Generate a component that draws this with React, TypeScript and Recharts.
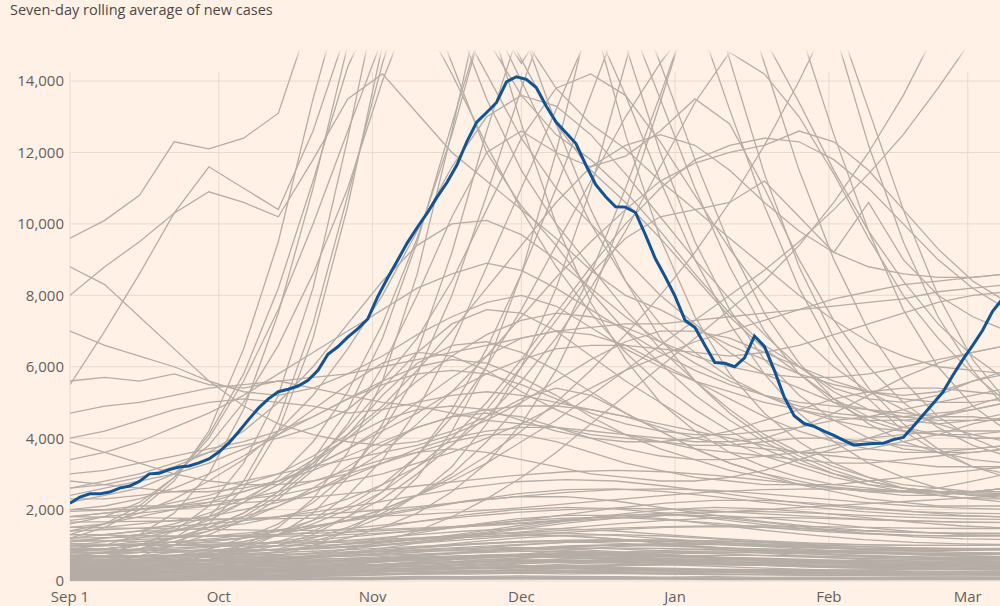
import React from "react";
import { LineChart, Line, XAxis, YAxis, CartesianGrid, ReferenceLine } from "recharts";

// x is days since Sep 1; y is thousands of cases (seven-day rolling average)
const monthTicks = [0, 30, 61, 91, 122, 153, 181];
const monthLabels = ["Sep 1", "Oct", "Nov", "Dec", "Jan", "Feb", "Mar"];
const yTicks = [0, 2, 4, 6, 8, 10, 12, 14];

// highlighted series, one value every 2 days
const BLUE_STEP = 2;
const highlight = [
  2.18, 2.35, 2.44, 2.44, 2.49, 2.6, 2.66, 2.79, 3.0, 3.02, 3.12, 3.19, 3.22, 3.31, 3.42, 3.61, 3.86, 4.18, 4.52, 4.84,
  5.1, 5.3, 5.37, 5.46, 5.62, 5.9, 6.35, 6.56, 6.83, 7.06, 7.33, 7.95, 8.48, 8.97, 9.47, 9.9, 10.3, 10.75, 11.16, 11.65,
  12.3, 12.85, 13.12, 13.4, 13.98, 14.12, 14.05, 13.82, 13.3, 12.85, 12.55, 12.25, 11.65, 11.1, 10.76, 10.48, 10.47, 10.32, 9.7, 9.03,
  8.52, 7.97, 7.3, 7.1, 6.6, 6.12, 6.1, 6.0, 6.25, 6.86, 6.57, 5.9, 5.15, 4.63, 4.41, 4.33, 4.2, 4.08, 3.94, 3.81,
  3.83, 3.85, 3.86, 3.96, 4.02, 4.33, 4.65, 4.97, 5.29, 5.76, 6.2, 6.6, 7.02, 7.55, 7.9,
];

// other places, weekly values
const WEEK = 7;
const greyHigh = [
  [9.6, 10.1, 10.8, 12.3, 12.1, 12.4, 13.1, 16, 19, 20, 19, 17, 15.2, 13.6, 12.5, 11.8, 10.9, 9.8, 8.6, 7.5, 6.6, 6.0, 5.4, 5.1, 5.0, 5.2, 5.6, 5.9],
  [8.0, 8.8, 9.5, 10.3, 10.9, 10.6, 10.2, 11.8, 13.5, 14.2, 13.1, 12.0, 11.2, 10.4, 9.6, 8.7, 8.0, 7.6, 7.1, 6.6, 6.2, 5.8, 5.5, 5.3, 5.2, 5.3, 5.6, 5.8],
  [5.5, 7.0, 8.6, 10.3, 11.6, 11.0, 10.4, 12.6, 15.5, 18, 17, 14.5, 12.0, 10.5, 9.4, 8.1, 7.0, 6.1, 5.2, 4.5, 3.9, 3.4, 3.0, 2.7, 2.5, 2.4, 2.3, 2.3],
  [8.8, 8.3, 7.4, 6.5, 5.6, 4.9, 4.4, 4.1, 3.9, 3.8, 3.9, 4.2, 4.6, 5.1, 5.4, 5.2, 4.7, 4.2, 3.7, 3.3, 3.0, 2.8, 2.6, 2.5, 2.4, 2.4, 2.5, 2.6],
  [1.2, 1.5, 2.0, 2.8, 4.2, 6.5, 9.5, 13.5, 17, 19, 18, 16, 13.5, 11.5, 10.0, 8.8, 7.6, 6.5, 5.6, 4.8, 4.1, 3.6, 3.2, 2.9, 2.7, 2.6, 2.5, 2.5],
  [0.9, 1.0, 1.3, 1.9, 3.0, 4.8, 7.5, 11.0, 15.0, 18, 19, 18, 16.5, 14.6, 12.8, 11.5, 10.6, 9.6, 8.5, 7.4, 6.5, 5.8, 5.1, 4.6, 4.3, 4.1, 4.0, 4.0],
  [0.6, 0.7, 0.9, 1.2, 1.8, 2.8, 4.5, 7.2, 10.8, 14.5, 17.5, 18, 17, 15.3, 13.8, 12.8, 12.1, 11.2, 10.4, 9.6, 8.8, 8.0, 7.3, 6.7, 6.3, 6.0, 5.9, 5.8],
  [1.6, 1.8, 2.2, 2.9, 4.0, 5.6, 7.6, 10.0, 12.6, 15.2, 17, 16, 14.2, 12.4, 11.0, 10.0, 9.0, 8.0, 7.2, 6.4, 5.8, 5.4, 5.0, 4.8, 4.6, 4.5, 4.5, 4.5],
  [2.2, 2.4, 2.6, 3.0, 3.8, 5.0, 6.6, 8.6, 11.0, 14.0, 16.5, 17, 16, 14, 12, 10, 8.4, 7.2, 6.4, 5.7, 5.2, 4.8, 4.5, 4.3, 4.2, 4.1, 4.1, 4.2],
  [1.4, 1.6, 1.9, 2.3, 2.8, 3.4, 4.2, 5.2, 6.5, 8.0, 9.8, 11.6, 13.0, 13.6, 13.3, 12.5, 11.4, 10.2, 9.0, 7.9, 6.9, 6.0, 5.3, 4.8, 4.5, 4.4, 4.5, 4.7],
  [0.8, 0.9, 1.0, 1.2, 1.5, 1.9, 2.5, 3.4, 4.8, 6.8, 9.5, 12.8, 16, 19, 20, 18, 15, 12, 9.5, 7.6, 6.2, 5.2, 4.5, 4.0, 3.7, 3.6, 3.6, 3.7],
  [1.0, 1.1, 1.2, 1.4, 1.7, 2.2, 2.9, 3.9, 5.3, 7.2, 9.6, 12.5, 16, 14.5, 16, 17, 16, 13.5, 11.0, 8.8, 7.0, 5.8, 5.0, 4.5, 4.2, 4.1, 4.0, 4.0],
  [0.4, 0.5, 0.6, 0.7, 0.9, 1.2, 1.6, 2.2, 3.0, 4.2, 5.8, 8.0, 10.8, 13.8, 16.5, 18, 17, 14.5, 11.8, 9.4, 7.5, 6.1, 5.1, 4.4, 3.9, 3.6, 3.4, 3.3],
  [0.7, 0.8, 0.9, 1.1, 1.4, 1.8, 2.4, 3.2, 4.4, 6.0, 8.0, 10.2, 12.0, 12.6, 12.0, 11.6, 11.9, 12.6, 13.5, 12.8, 11.0, 9.0, 7.3, 6.0, 5.0, 4.3, 3.8, 3.5],
  [0.5, 0.5, 0.6, 0.7, 0.8, 1.0, 1.3, 1.7, 2.4, 3.4, 4.8, 6.6, 8.8, 11.0, 13.2, 15.5, 17.5, 18, 16, 13.2, 10.5, 8.2, 6.4, 5.1, 4.2, 3.6, 3.2, 3.0],
  [0.3, 0.3, 0.4, 0.5, 0.6, 0.8, 1.0, 1.3, 1.8, 2.5, 3.5, 4.8, 6.5, 8.6, 11.0, 13.6, 16.2, 18, 19, 17.5, 14.5, 11.5, 9.0, 7.0, 5.6, 4.6, 4.0, 3.6],
  [0.9, 0.9, 1.0, 1.0, 1.1, 1.2, 1.4, 1.7, 2.1, 2.7, 3.5, 4.6, 6.0, 7.6, 9.4, 11.2, 13.0, 14.5, 15.8, 16.5, 15.2, 13.4, 11.5, 9.8, 8.4, 7.2, 6.3, 5.6],
  [0.6, 0.6, 0.7, 0.8, 0.9, 1.1, 1.3, 1.6, 2.0, 2.5, 3.2, 4.0, 5.0, 6.2, 7.5, 8.8, 10.0, 11.0, 11.8, 12.2, 12.4, 12.3, 11.8, 11.0, 10.0, 9.0, 8.2, 7.6],
  [1.1, 1.2, 1.3, 1.4, 1.6, 1.8, 2.1, 2.5, 3.0, 3.6, 4.4, 5.3, 6.3, 7.4, 8.5, 9.5, 10.4, 11.2, 11.7, 12.0, 12.2, 12.6, 12.3, 11.5, 10.4, 9.3, 8.4, 7.8],
  [0.4, 0.4, 0.5, 0.6, 0.7, 0.9, 1.1, 1.4, 1.8, 2.3, 3.0, 3.8, 4.8, 6.0, 7.3, 8.6, 9.6, 10.2, 10.4, 10.6, 11.2, 10.2, 9.2, 10.6, 9.0, 8.0, 7.4, 7.0],
  [0.3, 0.3, 0.3, 0.4, 0.4, 0.5, 0.6, 0.7, 0.9, 1.1, 1.4, 1.8, 2.3, 2.9, 3.6, 4.4, 5.2, 6.0, 6.8, 7.6, 8.4, 9.4, 10.6, 12.0, 13.6, 15.5, 17.5, 19],
  [0.8, 0.8, 0.9, 1.0, 1.0, 1.1, 1.3, 1.5, 1.7, 2.0, 2.4, 2.8, 3.3, 3.9, 4.5, 5.2, 5.9, 6.6, 7.3, 8.0, 8.7, 9.5, 10.4, 11.4, 12.5, 13.8, 15.2, 16.5],
  [0.5, 0.5, 0.6, 0.6, 0.7, 0.8, 0.9, 1.1, 1.4, 1.8, 2.4, 3.2, 4.4, 6.0, 8.2, 11.0, 14.5, 18, 20, 20, 18, 15.5, 12.5, 9.8, 7.6, 6.0, 4.9, 4.2],
  [0.6, 0.6, 0.6, 0.7, 0.8, 0.9, 1.0, 1.2, 1.5, 1.9, 2.4, 3.0, 3.9, 5.0, 6.6, 8.6, 11.0, 13.6, 16.4, 18.5, 19, 18, 16, 13.2, 10.4, 8.0, 6.2, 5.0],
  [1.3, 1.3, 1.4, 1.4, 1.5, 1.6, 1.8, 2.0, 2.3, 2.7, 3.2, 3.8, 4.6, 5.6, 6.8, 8.2, 9.8, 11.6, 13.4, 14.8, 14.2, 13.0, 11.4, 9.6, 8.0, 6.8, 5.8, 5.0],
  [0.4, 0.5, 0.7, 1.0, 1.6, 2.6, 4.2, 6.8, 10.5, 15, 19, 20, 18, 15.5, 12.8, 10.4, 8.4, 6.8, 5.6, 4.7, 4.0, 3.5, 3.1, 2.8, 2.6, 2.5, 2.4, 2.4],
  [0.7, 0.8, 1.0, 1.4, 2.1, 3.3, 5.2, 8.2, 12.4, 17, 20, 19, 16, 12.8, 10.0, 7.8, 6.2, 5.0, 4.2, 3.6, 3.2, 2.9, 2.7, 2.6, 2.5, 2.5, 2.5, 2.6],
  [0.3, 0.3, 0.4, 0.5, 0.7, 1.0, 1.5, 2.3, 3.6, 5.6, 8.6, 12.6, 17, 20, 19, 16, 12.5, 9.6, 7.4, 5.8, 4.7, 3.9, 3.3, 2.9, 2.6, 2.4, 2.3, 2.2],
  [0.2, 0.2, 0.3, 0.3, 0.4, 0.5, 0.7, 1.0, 1.4, 2.0, 2.9, 4.2, 6.0, 8.6, 12.0, 16, 19, 20, 18, 14.6, 11.4, 8.8, 6.8, 5.4, 4.4, 3.7, 3.2, 2.9],
  [0.5, 0.5, 0.5, 0.6, 0.6, 0.7, 0.8, 1.0, 1.2, 1.5, 1.9, 2.5, 3.3, 4.4, 5.9, 7.9, 10.4, 13.4, 16.5, 19, 20, 18.5, 15.5, 12.2, 9.5, 7.4, 5.9, 4.8],
  [0.9, 0.9, 1.0, 1.0, 1.1, 1.2, 1.3, 1.5, 1.7, 2.0, 2.4, 2.9, 3.5, 4.2, 5.0, 5.9, 6.9, 8.0, 9.2, 10.6, 12.2, 14.0, 16.0, 18, 19.5, 20, 19, 17.5],
  [1.3, 1.6, 2.1, 2.9, 4.1, 5.8, 8.2, 11.2, 14.4, 16.5, 16, 14.2, 12.2, 10.4, 8.8, 7.5, 6.4, 5.5, 4.8, 4.2, 3.7, 3.3, 3.0, 2.8, 2.6, 2.5, 2.4, 2.4],
  [0.2, 0.3, 0.3, 0.4, 0.6, 0.9, 1.3, 1.9, 2.9, 4.4, 6.4, 9.2, 12.6, 15.6, 16.8, 15.8, 13.6, 11.2, 9.0, 7.2, 5.8, 4.7, 3.9, 3.3, 2.9, 2.6, 2.4, 2.3],
];

const greyMid = [
  [7.0, 6.6, 6.3, 6.0, 5.6, 5.3, 5.2, 5.4, 5.8, 6.3, 6.9, 7.4, 7.8, 8.0, 7.7, 7.1, 6.5, 6.0, 5.6, 5.3, 5.0, 4.8, 4.6, 4.5, 4.5, 4.6, 4.8, 5.0],
  [5.6, 5.7, 5.6, 5.8, 5.5, 5.4, 5.6, 5.4, 5.2, 5.0, 4.9, 4.7, 4.5, 4.4, 4.3, 4.1, 4.0, 3.9, 3.7, 3.6, 3.5, 3.4, 3.3, 3.3, 3.4, 3.5, 3.6, 3.7],
  [4.7, 4.9, 5.0, 5.2, 5.4, 5.5, 5.6, 5.7, 5.8, 6.0, 6.2, 6.4, 6.6, 6.8, 7.0, 7.1, 7.2, 7.2, 7.3, 7.4, 7.5, 7.6, 7.7, 7.8, 7.9, 8.1, 8.2, 8.3],
  [4.0, 4.2, 4.5, 4.8, 5.0, 5.1, 5.0, 4.9, 4.7, 4.8, 5.0, 5.2, 5.3, 5.2, 5.0, 4.8, 4.6, 4.3, 4.0, 3.8, 3.7, 3.6, 3.6, 3.7, 3.9, 4.1, 4.4, 4.6],
  [3.4, 3.6, 3.9, 4.3, 4.7, 5.2, 5.8, 6.4, 7.0, 7.6, 8.2, 8.6, 8.9, 8.7, 8.2, 7.6, 7.0, 6.4, 5.9, 5.5, 5.2, 5.0, 4.9, 4.8, 4.7, 4.6, 4.6, 4.5],
  [2.6, 2.8, 3.0, 3.3, 3.6, 3.8, 4.0, 4.3, 4.8, 5.6, 6.8, 8.4, 10.4, 12.4, 13.8, 14.2, 13.6, 12.3, 10.8, 9.3, 8.0, 6.9, 6.0, 5.3, 4.8, 4.4, 4.1, 3.9],
  [1.8, 1.9, 2.0, 2.2, 2.4, 2.7, 3.0, 3.5, 4.1, 4.9, 5.9, 7.0, 8.2, 9.4, 10.6, 11.6, 12.2, 12.5, 12.2, 11.5, 10.6, 9.8, 9.2, 8.8, 8.6, 8.5, 8.5, 8.6],
  [2.0, 2.0, 2.1, 2.1, 2.2, 2.3, 2.4, 2.6, 2.8, 3.0, 3.3, 3.6, 4.0, 4.4, 4.9, 5.4, 5.9, 6.3, 6.7, 7.0, 7.3, 7.6, 7.9, 8.1, 8.3, 8.4, 8.5, 8.6],
  [1.5, 1.6, 1.8, 2.0, 2.2, 2.5, 2.8, 3.2, 3.7, 4.2, 4.7, 5.3, 5.8, 6.2, 6.5, 6.6, 6.6, 6.5, 6.4, 6.3, 6.4, 6.6, 6.9, 7.2, 7.5, 7.8, 8.0, 8.1],
  [2.4, 2.6, 2.8, 3.0, 3.3, 3.7, 4.1, 4.6, 5.1, 5.5, 5.8, 5.9, 5.8, 5.5, 5.1, 4.7, 4.4, 4.2, 4.1, 4.1, 4.2, 4.3, 4.5, 4.6, 4.8, 5.0, 5.2, 5.4],
  [3.0, 3.1, 3.3, 3.5, 3.7, 3.9, 4.2, 4.6, 5.1, 5.6, 6.0, 6.2, 6.1, 5.7, 5.2, 4.6, 4.1, 3.7, 3.4, 3.1, 2.9, 2.7, 2.6, 2.5, 2.5, 2.6, 2.8, 3.0],
  [2.0, 2.1, 2.3, 2.6, 3.0, 3.5, 4.1, 4.8, 5.5, 6.1, 6.4, 6.3, 5.9, 5.3, 4.8, 4.4, 4.1, 3.9, 3.8, 3.8, 3.9, 4.0, 4.0, 3.9, 3.8, 3.7, 3.7, 3.8],
  [1.8, 1.9, 2.0, 2.1, 2.3, 2.5, 2.8, 3.2, 3.7, 4.3, 5.0, 5.7, 6.3, 6.8, 7.0, 6.9, 6.6, 6.1, 5.6, 5.1, 4.6, 4.2, 3.9, 3.7, 3.6, 3.6, 3.7, 3.8],
  [1.2, 1.3, 1.4, 1.6, 1.9, 2.3, 2.8, 3.4, 4.0, 4.5, 4.8, 4.9, 4.8, 4.5, 4.2, 4.0, 3.9, 3.9, 4.0, 4.2, 4.5, 4.8, 5.1, 5.3, 5.4, 5.4, 5.3, 5.2],
  [2.8, 2.7, 2.6, 2.5, 2.5, 2.6, 2.8, 3.1, 3.5, 3.9, 4.3, 4.6, 4.8, 4.9, 4.9, 4.8, 4.6, 4.4, 4.2, 4.0, 3.8, 3.6, 3.5, 3.4, 3.3, 3.2, 3.2, 3.2],
  [1.0, 1.0, 1.1, 1.2, 1.4, 1.7, 2.1, 2.6, 3.2, 3.8, 4.3, 4.6, 4.7, 4.6, 4.3, 4.0, 3.7, 3.5, 3.4, 3.4, 3.5, 3.6, 3.8, 4.0, 4.1, 4.2, 4.2, 4.2],
  [0.8, 0.9, 1.0, 1.2, 1.5, 1.9, 2.5, 3.3, 4.3, 5.4, 6.4, 7.2, 7.6, 7.5, 7.0, 6.3, 5.6, 5.0, 4.4, 3.9, 3.5, 3.2, 2.9, 2.7, 2.6, 2.5, 2.5, 2.6],
  [1.5, 1.5, 1.6, 1.7, 1.8, 2.0, 2.2, 2.5, 2.9, 3.3, 3.7, 4.0, 4.2, 4.3, 4.3, 4.2, 4.1, 4.0, 3.9, 3.9, 4.0, 4.3, 4.7, 5.2, 5.7, 6.1, 6.4, 6.6],
  [3.9, 3.6, 3.3, 3.0, 2.8, 2.7, 2.7, 2.8, 3.0, 3.3, 3.6, 3.9, 4.1, 4.1, 3.9, 3.6, 3.3, 3.1, 2.9, 2.8, 2.7, 2.7, 2.7, 2.8, 2.9, 3.0, 3.1, 3.2],
  [2.6, 2.7, 2.9, 3.2, 3.6, 4.2, 5.0, 6.0, 7.2, 8.4, 9.4, 10.0, 10.1, 9.7, 9.0, 8.2, 7.4, 6.7, 6.1, 5.6, 5.2, 4.9, 4.7, 4.6, 4.6, 4.7, 4.8, 5.0],
  [1.7, 1.8, 1.9, 2.0, 2.1, 2.3, 2.5, 2.8, 3.1, 3.4, 3.6, 3.7, 3.6, 3.4, 3.2, 3.0, 2.9, 2.8, 2.8, 2.9, 3.1, 3.4, 3.7, 4.0, 4.3, 4.6, 4.9, 5.2],
  [0.6, 0.7, 0.8, 1.0, 1.3, 1.7, 2.3, 3.1, 4.1, 5.2, 6.1, 6.6, 6.7, 6.4, 5.9, 5.3, 4.7, 4.2, 3.7, 3.3, 3.0, 2.7, 2.5, 2.3, 2.2, 2.1, 2.1, 2.1],
  [2.3, 2.3, 2.4, 2.5, 2.6, 2.8, 3.0, 3.2, 3.4, 3.6, 3.8, 4.1, 4.5, 5.0, 5.6, 6.2, 6.7, 7.0, 7.0, 6.8, 6.4, 6.0, 5.6, 5.3, 5.1, 5.0, 5.0, 5.1],
  [1.1, 1.2, 1.3, 1.5, 1.8, 2.2, 2.7, 3.3, 4.0, 4.8, 5.6, 6.3, 6.9, 7.3, 7.5, 7.4, 7.1, 6.7, 6.3, 6.0, 5.8, 5.7, 5.7, 5.8, 6.0, 6.2, 6.4, 6.6],
];

// the dense band near the floor, one value every 10 days
const LOW_STEP = 10;
const greyLow = [
  [0.05, 0.05, 0.06, 0.06, 0.07, 0.08, 0.09, 0.1, 0.1, 0.11, 0.1, 0.1, 0.09, 0.09, 0.08, 0.08, 0.08, 0.09, 0.09, 0.1],
  [0.1, 0.11, 0.12, 0.13, 0.15, 0.17, 0.2, 0.22, 0.24, 0.25, 0.24, 0.22, 0.2, 0.18, 0.17, 0.16, 0.16, 0.17, 0.18, 0.19],
  [0.15, 0.14, 0.14, 0.15, 0.17, 0.21, 0.27, 0.33, 0.38, 0.4, 0.38, 0.34, 0.3, 0.27, 0.25, 0.24, 0.24, 0.25, 0.27, 0.29],
  [0.2, 0.21, 0.22, 0.24, 0.26, 0.29, 0.32, 0.35, 0.37, 0.38, 0.37, 0.35, 0.33, 0.31, 0.3, 0.3, 0.31, 0.33, 0.35, 0.37],
  [0.25, 0.24, 0.23, 0.23, 0.24, 0.26, 0.3, 0.36, 0.44, 0.52, 0.58, 0.6, 0.56, 0.5, 0.44, 0.39, 0.36, 0.35, 0.35, 0.36],
  [0.3, 0.32, 0.34, 0.36, 0.4, 0.46, 0.54, 0.62, 0.68, 0.7, 0.66, 0.6, 0.54, 0.49, 0.46, 0.44, 0.44, 0.45, 0.47, 0.5],
  [0.08, 0.09, 0.1, 0.12, 0.15, 0.19, 0.24, 0.3, 0.35, 0.38, 0.39, 0.37, 0.33, 0.29, 0.26, 0.23, 0.21, 0.2, 0.2, 0.21],
  [0.35, 0.36, 0.37, 0.38, 0.4, 0.42, 0.45, 0.48, 0.52, 0.55, 0.57, 0.58, 0.57, 0.55, 0.52, 0.5, 0.48, 0.47, 0.47, 0.48],
  [0.4, 0.42, 0.45, 0.5, 0.57, 0.66, 0.76, 0.86, 0.92, 0.94, 0.9, 0.82, 0.74, 0.67, 0.62, 0.58, 0.56, 0.56, 0.57, 0.59],
  [0.45, 0.44, 0.43, 0.42, 0.42, 0.43, 0.45, 0.48, 0.52, 0.57, 0.62, 0.66, 0.68, 0.67, 0.64, 0.6, 0.56, 0.53, 0.51, 0.5],
  [0.5, 0.52, 0.55, 0.6, 0.68, 0.8, 0.95, 1.1, 1.22, 1.28, 1.26, 1.18, 1.06, 0.94, 0.84, 0.76, 0.7, 0.66, 0.64, 0.64],
  [0.55, 0.56, 0.57, 0.58, 0.6, 0.62, 0.64, 0.66, 0.68, 0.7, 0.72, 0.74, 0.76, 0.78, 0.8, 0.82, 0.84, 0.86, 0.88, 0.9],
  [0.6, 0.58, 0.56, 0.55, 0.55, 0.57, 0.62, 0.7, 0.8, 0.9, 0.98, 1.02, 1.0, 0.94, 0.86, 0.78, 0.72, 0.68, 0.66, 0.66],
  [0.65, 0.68, 0.72, 0.78, 0.86, 0.96, 1.08, 1.2, 1.3, 1.35, 1.34, 1.28, 1.18, 1.08, 1.0, 0.94, 0.9, 0.88, 0.88, 0.9],
  [0.7, 0.7, 0.71, 0.72, 0.74, 0.77, 0.82, 0.88, 0.95, 1.02, 1.08, 1.12, 1.14, 1.12, 1.08, 1.02, 0.96, 0.92, 0.9, 0.9],
  [0.12, 0.13, 0.15, 0.18, 0.23, 0.3, 0.4, 0.52, 0.64, 0.74, 0.8, 0.8, 0.74, 0.66, 0.58, 0.51, 0.46, 0.43, 0.41, 0.4],
  [0.18, 0.18, 0.19, 0.2, 0.22, 0.25, 0.29, 0.34, 0.4, 0.47, 0.54, 0.6, 0.64, 0.65, 0.62, 0.57, 0.52, 0.48, 0.45, 0.44],
  [0.22, 0.25, 0.3, 0.38, 0.5, 0.66, 0.86, 1.06, 1.22, 1.3, 1.28, 1.18, 1.04, 0.9, 0.78, 0.68, 0.6, 0.55, 0.52, 0.5],
  [0.28, 0.28, 0.29, 0.31, 0.34, 0.38, 0.44, 0.52, 0.62, 0.74, 0.86, 0.96, 1.02, 1.02, 0.96, 0.88, 0.8, 0.74, 0.7, 0.68],
  [0.32, 0.31, 0.3, 0.3, 0.31, 0.33, 0.36, 0.4, 0.45, 0.5, 0.54, 0.57, 0.58, 0.57, 0.55, 0.52, 0.5, 0.49, 0.49, 0.5],
  [0.75, 0.78, 0.82, 0.88, 0.96, 1.06, 1.18, 1.3, 1.4, 1.46, 1.46, 1.4, 1.3, 1.2, 1.12, 1.06, 1.02, 1.0, 1.0, 1.02],
  [0.8, 0.8, 0.8, 0.82, 0.86, 0.92, 1.02, 1.16, 1.34, 1.54, 1.72, 1.84, 1.86, 1.78, 1.64, 1.48, 1.34, 1.24, 1.18, 1.16],
  [0.85, 0.88, 0.92, 0.98, 1.06, 1.16, 1.28, 1.42, 1.56, 1.68, 1.76, 1.78, 1.72, 1.62, 1.5, 1.4, 1.32, 1.28, 1.26, 1.28],
  [0.9, 0.88, 0.86, 0.85, 0.86, 0.9, 0.98, 1.1, 1.26, 1.44, 1.62, 1.76, 1.84, 1.84, 1.76, 1.64, 1.5, 1.38, 1.3, 1.26],
  [0.95, 1.0, 1.08, 1.2, 1.36, 1.56, 1.8, 2.04, 2.24, 2.36, 2.36, 2.24, 2.04, 1.84, 1.66, 1.52, 1.42, 1.36, 1.34, 1.34],
  [1.0, 1.0, 1.01, 1.03, 1.06, 1.1, 1.15, 1.21, 1.28, 1.35, 1.42, 1.48, 1.52, 1.54, 1.54, 1.52, 1.5, 1.48, 1.47, 1.47],
  [1.05, 1.02, 1.0, 0.98, 0.98, 1.0, 1.06, 1.16, 1.3, 1.48, 1.68, 1.86, 2.0, 2.06, 2.02, 1.92, 1.78, 1.64, 1.54, 1.48],
  [1.1, 1.14, 1.2, 1.28, 1.4, 1.56, 1.76, 2.0, 2.24, 2.44, 2.56, 2.58, 2.5, 2.36, 2.2, 2.06, 1.94, 1.86, 1.82, 1.8],
  [1.2, 1.22, 1.24, 1.27, 1.3, 1.34, 1.39, 1.45, 1.52, 1.6, 1.68, 1.76, 1.84, 1.92, 2.0, 2.08, 2.16, 2.24, 2.32, 2.4],
  [1.3, 1.28, 1.26, 1.25, 1.25, 1.27, 1.32, 1.4, 1.52, 1.68, 1.86, 2.04, 2.18, 2.26, 2.26, 2.18, 2.06, 1.94, 1.84, 1.78],
  [1.4, 1.45, 1.52, 1.62, 1.76, 1.94, 2.16, 2.4, 2.62, 2.78, 2.84, 2.8, 2.66, 2.48, 2.3, 2.14, 2.02, 1.94, 1.9, 1.88],
  [1.5, 1.48, 1.46, 1.44, 1.42, 1.42, 1.44, 1.48, 1.54, 1.62, 1.72, 1.82, 1.9, 1.94, 1.94, 1.9, 1.84, 1.78, 1.74, 1.72],
  [1.65, 1.66, 1.68, 1.72, 1.78, 1.86, 1.96, 2.08, 2.22, 2.36, 2.48, 2.56, 2.58, 2.54, 2.44, 2.32, 2.2, 2.1, 2.04, 2.0],
  [1.8, 1.78, 1.76, 1.74, 1.74, 1.76, 1.8, 1.86, 1.94, 2.04, 2.16, 2.28, 2.4, 2.5, 2.56, 2.58, 2.56, 2.52, 2.48, 2.44],
  [1.95, 2.0, 2.06, 2.14, 2.24, 2.36, 2.5, 2.66, 2.82, 2.96, 3.06, 3.1, 3.06, 2.96, 2.82, 2.68, 2.56, 2.48, 2.44, 2.42],
  [0.38, 0.4, 0.44, 0.5, 0.58, 0.68, 0.8, 0.94, 1.08, 1.2, 1.28, 1.3, 1.26, 1.18, 1.08, 0.98, 0.9, 0.84, 0.8, 0.78],
  [0.42, 0.41, 0.4, 0.4, 0.41, 0.43, 0.46, 0.5, 0.56, 0.63, 0.7, 0.76, 0.8, 0.81, 0.79, 0.75, 0.7, 0.66, 0.63, 0.62],
  [0.48, 0.5, 0.53, 0.57, 0.63, 0.71, 0.81, 0.92, 1.02, 1.1, 1.14, 1.14, 1.1, 1.04, 0.98, 0.92, 0.88, 0.86, 0.86, 0.88],
  [0.52, 0.51, 0.5, 0.5, 0.51, 0.53, 0.56, 0.6, 0.65, 0.7, 0.75, 0.79, 0.82, 0.84, 0.84, 0.83, 0.81, 0.79, 0.78, 0.78],
  [0.58, 0.6, 0.64, 0.7, 0.8, 0.94, 1.12, 1.34, 1.56, 1.74, 1.84, 1.84, 1.74, 1.58, 1.42, 1.28, 1.16, 1.08, 1.04, 1.02],
  [0.62, 0.61, 0.6, 0.6, 0.62, 0.66, 0.72, 0.8, 0.9, 1.0, 1.08, 1.12, 1.12, 1.08, 1.02, 0.96, 0.92, 0.9, 0.9, 0.92],
  [0.68, 0.7, 0.72, 0.75, 0.79, 0.84, 0.9, 0.97, 1.04, 1.1, 1.14, 1.16, 1.15, 1.12, 1.08, 1.04, 1.01, 1.0, 1.0, 1.01],
  [0.03, 0.03, 0.04, 0.04, 0.05, 0.06, 0.07, 0.08, 0.09, 0.1, 0.1, 0.1, 0.09, 0.08, 0.07, 0.07, 0.06, 0.06, 0.06, 0.07],
  [0.06, 0.07, 0.08, 0.09, 0.11, 0.13, 0.16, 0.19, 0.22, 0.24, 0.25, 0.24, 0.22, 0.2, 0.18, 0.16, 0.15, 0.14, 0.14, 0.15],
  [0.14, 0.13, 0.12, 0.12, 0.13, 0.15, 0.18, 0.22, 0.27, 0.31, 0.34, 0.35, 0.33, 0.3, 0.27, 0.24, 0.22, 0.21, 0.21, 0.22],
  [0.17, 0.19, 0.22, 0.26, 0.32, 0.4, 0.5, 0.6, 0.68, 0.72, 0.71, 0.66, 0.59, 0.52, 0.46, 0.41, 0.38, 0.36, 0.35, 0.35],
  [0.24, 0.25, 0.26, 0.27, 0.28, 0.3, 0.32, 0.34, 0.37, 0.4, 0.42, 0.44, 0.45, 0.45, 0.44, 0.43, 0.42, 0.41, 0.41, 0.42],
  [0.27, 0.26, 0.26, 0.27, 0.29, 0.33, 0.39, 0.47, 0.56, 0.64, 0.7, 0.72, 0.7, 0.65, 0.59, 0.54, 0.5, 0.47, 0.46, 0.46],
  [0.33, 0.35, 0.38, 0.42, 0.47, 0.53, 0.6, 0.66, 0.71, 0.74, 0.74, 0.72, 0.68, 0.64, 0.6, 0.57, 0.55, 0.54, 0.54, 0.55],
  [0.36, 0.35, 0.34, 0.34, 0.35, 0.37, 0.4, 0.44, 0.49, 0.55, 0.61, 0.66, 0.7, 0.72, 0.72, 0.7, 0.67, 0.64, 0.62, 0.61],
  [0.02, 0.02, 0.02, 0.03, 0.03, 0.04, 0.04, 0.05, 0.05, 0.05, 0.05, 0.05, 0.05, 0.04, 0.04, 0.04, 0.04, 0.04, 0.04, 0.04],
  [0.09, 0.1, 0.11, 0.13, 0.16, 0.2, 0.25, 0.3, 0.34, 0.36, 0.35, 0.32, 0.28, 0.25, 0.22, 0.2, 0.19, 0.19, 0.2, 0.21],
  [0.11, 0.11, 0.11, 0.12, 0.13, 0.15, 0.17, 0.2, 0.23, 0.26, 0.29, 0.31, 0.32, 0.32, 0.31, 0.29, 0.27, 0.26, 0.25, 0.25],
  [0.19, 0.21, 0.24, 0.28, 0.34, 0.42, 0.52, 0.62, 0.7, 0.74, 0.74, 0.7, 0.63, 0.56, 0.5, 0.45, 0.42, 0.4, 0.39, 0.39],
  [0.44, 0.46, 0.48, 0.51, 0.55, 0.6, 0.66, 0.73, 0.8, 0.86, 0.9, 0.92, 0.91, 0.88, 0.84, 0.8, 0.77, 0.75, 0.74, 0.74],
  [0.72, 0.7, 0.68, 0.67, 0.67, 0.68, 0.71, 0.75, 0.81, 0.88, 0.95, 1.01, 1.05, 1.06, 1.04, 1.0, 0.96, 0.93, 0.91, 0.9],
  [0.78, 0.82, 0.88, 0.96, 1.08, 1.24, 1.44, 1.66, 1.86, 2.0, 2.06, 2.02, 1.9, 1.74, 1.58, 1.44, 1.34, 1.28, 1.26, 1.26],
  [0.88, 0.87, 0.86, 0.86, 0.88, 0.92, 0.98, 1.06, 1.16, 1.26, 1.36, 1.44, 1.5, 1.52, 1.5, 1.46, 1.4, 1.36, 1.33, 1.32],
  [0.98, 1.02, 1.08, 1.16, 1.26, 1.38, 1.52, 1.66, 1.8, 1.92, 2.0, 2.04, 2.02, 1.96, 1.88, 1.8, 1.73, 1.68, 1.65, 1.64],
  [1.15, 1.12, 1.09, 1.07, 1.06, 1.07, 1.1, 1.16, 1.25, 1.36, 1.48, 1.6, 1.7, 1.76, 1.78, 1.76, 1.72, 1.68, 1.65, 1.63],
  [0.04, 0.05, 0.04, 0.06, 0.05, 0.07, 0.06, 0.08, 0.07, 0.08, 0.07, 0.07, 0.06, 0.07, 0.06, 0.06, 0.05, 0.06, 0.06, 0.05],
  [0.07, 0.06, 0.08, 0.07, 0.09, 0.11, 0.1, 0.13, 0.12, 0.14, 0.13, 0.12, 0.11, 0.12, 0.1, 0.11, 0.1, 0.1, 0.11, 0.1],
  [0.13, 0.12, 0.14, 0.13, 0.16, 0.15, 0.18, 0.2, 0.19, 0.22, 0.2, 0.21, 0.19, 0.18, 0.19, 0.17, 0.18, 0.17, 0.18, 0.19],
  [0.16, 0.17, 0.16, 0.19, 0.18, 0.22, 0.24, 0.27, 0.26, 0.29, 0.28, 0.26, 0.25, 0.23, 0.24, 0.22, 0.21, 0.22, 0.23, 0.22],
  [0.21, 0.2, 0.22, 0.21, 0.24, 0.23, 0.27, 0.26, 0.3, 0.31, 0.29, 0.3, 0.28, 0.27, 0.27, 0.26, 0.25, 0.26, 0.27, 0.28],
  [0.26, 0.28, 0.27, 0.3, 0.32, 0.35, 0.39, 0.42, 0.45, 0.44, 0.41, 0.38, 0.36, 0.33, 0.32, 0.31, 0.3, 0.31, 0.32, 0.33],
  [0.29, 0.3, 0.29, 0.31, 0.3, 0.33, 0.35, 0.34, 0.38, 0.4, 0.43, 0.46, 0.48, 0.47, 0.45, 0.42, 0.39, 0.37, 0.36, 0.36],
  [0.34, 0.33, 0.35, 0.34, 0.37, 0.4, 0.45, 0.5, 0.55, 0.58, 0.56, 0.53, 0.49, 0.46, 0.44, 0.42, 0.41, 0.41, 0.42, 0.43],
  [0.37, 0.39, 0.38, 0.41, 0.44, 0.48, 0.53, 0.57, 0.62, 0.6, 0.57, 0.55, 0.52, 0.5, 0.49, 0.48, 0.47, 0.48, 0.49, 0.5],
  [0.41, 0.4, 0.43, 0.42, 0.46, 0.51, 0.58, 0.64, 0.7, 0.75, 0.78, 0.76, 0.71, 0.66, 0.61, 0.57, 0.55, 0.53, 0.53, 0.54],
  [0.46, 0.47, 0.46, 0.49, 0.52, 0.56, 0.6, 0.66, 0.7, 0.68, 0.65, 0.63, 0.62, 0.6, 0.58, 0.57, 0.58, 0.6, 0.62, 0.63],
  [0.51, 0.49, 0.52, 0.55, 0.6, 0.67, 0.74, 0.82, 0.88, 0.92, 0.94, 0.9, 0.84, 0.77, 0.71, 0.66, 0.63, 0.61, 0.6, 0.6],
  [0.57, 0.55, 0.58, 0.62, 0.66, 0.72, 0.8, 0.86, 0.84, 0.9, 0.96, 1.0, 0.98, 0.93, 0.87, 0.82, 0.79, 0.77, 0.76, 0.77],
  [0.63, 0.66, 0.64, 0.67, 0.71, 0.77, 0.85, 0.94, 1.02, 1.08, 1.1, 1.06, 1.0, 0.94, 0.89, 0.86, 0.84, 0.84, 0.86, 0.88],
  [0.09, 0.11, 0.1, 0.14, 0.18, 0.24, 0.3, 0.38, 0.45, 0.5, 0.52, 0.5, 0.46, 0.41, 0.36, 0.32, 0.29, 0.27, 0.26, 0.26],
  [0.12, 0.14, 0.13, 0.15, 0.17, 0.2, 0.19, 0.23, 0.27, 0.32, 0.37, 0.42, 0.46, 0.48, 0.47, 0.44, 0.4, 0.37, 0.35, 0.34],
  [0.19, 0.18, 0.2, 0.23, 0.28, 0.35, 0.44, 0.54, 0.63, 0.68, 0.69, 0.65, 0.58, 0.5, 0.44, 0.39, 0.36, 0.34, 0.34, 0.35],
  [0.23, 0.24, 0.23, 0.25, 0.27, 0.3, 0.28, 0.32, 0.36, 0.41, 0.47, 0.53, 0.58, 0.6, 0.59, 0.55, 0.5, 0.46, 0.43, 0.42],
  [0.31, 0.33, 0.36, 0.4, 0.45, 0.52, 0.61, 0.7, 0.78, 0.83, 0.84, 0.8, 0.73, 0.66, 0.59, 0.53, 0.49, 0.46, 0.45, 0.45],
  [0.43, 0.42, 0.44, 0.47, 0.5, 0.54, 0.58, 0.62, 0.66, 0.7, 0.74, 0.8, 0.86, 0.9, 0.9, 0.86, 0.8, 0.74, 0.7, 0.68],
];

const BG = "#FFF1E5";
const GREY = "#B5ADA6";
const BLUE = "#0F5499";
const GRID = "#E8DACD";
const TEXT = "#66605C";
const FONT = "'Open Sans', sans-serif";

const toPoints = (vals: number[], step: number) => vals.map((v, i) => ({ d: i * step, v }));

const greyLines = [
  ...greyLow.map((s) => toPoints(s, LOW_STEP)),
  ...greyMid.map((s) => toPoints(s, WEEK)),
  ...greyHigh.map((s) => toPoints(s, WEEK)),
];
const bluePoints = toPoints(highlight, BLUE_STEP);

function XTick({ x, y, payload }: any) {
  const i = monthTicks.indexOf(payload.value);
  return (
    <text x={x} y={y + 21} textAnchor="middle" fontSize={15} fill={TEXT} fontFamily={FONT}>
      {monthLabels[i]}
    </text>
  );
}

function YTick({ x, y, payload }: any) {
  return (
    <text x={x - 6} y={y} dy="0.36em" textAnchor="end" fontSize={15} fill={TEXT} fontFamily={FONT}>
      {(payload.value * 1000).toLocaleString("en-US")}
    </text>
  );
}

export default function App() {
  return (
    <div style={{ position: "absolute", left: 0, top: 0, width: 1000, height: 606, background: BG, overflow: "hidden" }}>
      <div style={{ position: "absolute", left: 10, top: 0, fontSize: 14.5, color: "#4D4845", fontFamily: FONT }}>
        Seven-day rolling average of new cases
      </div>
      <LineChart width={1000} height={606} margin={{ top: 50, right: 0, bottom: 0, left: 0 }}>
        <CartesianGrid vertical={false} stroke={GRID} strokeWidth={1} />
        {monthTicks.map((d) => (
          <ReferenceLine key={d} segment={[{ x: d, y: 0 }, { x: d, y: 14.25 }]} stroke={GRID} strokeWidth={1} />
        ))}
        <XAxis
          dataKey="d"
          type="number"
          domain={[0, 187.5]}
          ticks={monthTicks}
          allowDataOverflow
          axisLine={false}
          tickLine={false}
          tickSize={0}
          tickMargin={0}
          height={25}
          tick={<XTick />}
          interval={0}
        />
        <YAxis
          type="number"
          domain={[0, 14.87]}
          ticks={yTicks}
          allowDataOverflow
          axisLine={false}
          tickLine={false}
          tickSize={0}
          tickMargin={0}
          width={70}
          tick={<YTick />}
          interval={0}
        />
        {greyLines.map((pts, i) => (
          <Line
            key={i}
            isAnimationActive={false}
            data={pts}
            dataKey="v"
            type="linear"
            stroke={GREY}
            strokeWidth={1.3}
            dot={false}
            activeDot={false}
          />
        ))}
        <Line
          isAnimationActive={false}
          data={bluePoints}
          dataKey="v"
          type="linear"
          stroke={BLUE}
          strokeWidth={3}
          dot={false}
          activeDot={false}
        />
      </LineChart>
      <div
        style={{
          position: "absolute",
          left: 70,
          top: 44,
          width: 930,
          height: 16,
          background: `linear-gradient(to bottom, ${BG} 30%, rgba(255,241,229,0))`,
        }}
      />
    </div>
  );
}
